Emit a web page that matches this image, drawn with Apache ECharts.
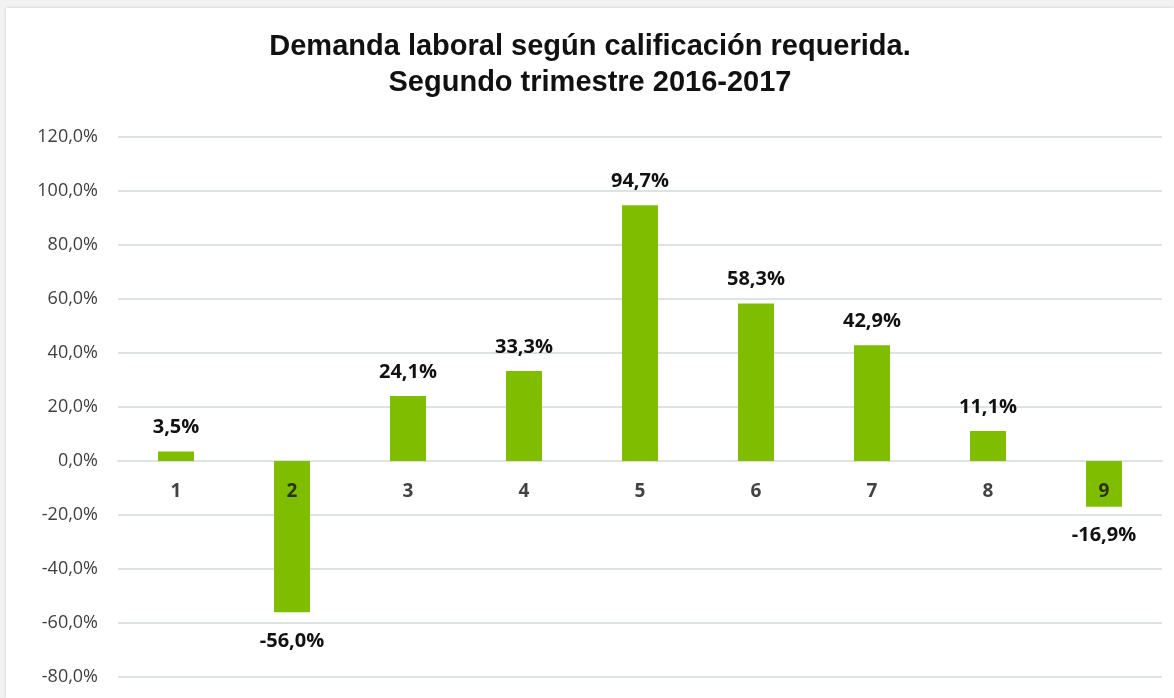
<!DOCTYPE html>
<html>
<head>
<meta charset="utf-8">
<script src="https://cdn.jsdelivr.net/npm/echarts@6/dist/echarts.min.js"></script>
<style>
  html, body { margin: 0; padding: 0; background: #f2f2f2; }
  #main { position: absolute; left: 6px; top: 8px; width: 1168px; height: 690px; background: #fff; box-shadow: 0 0 3px rgba(0,0,0,0.15); }
</style>
</head>
<body>
<div id="main"></div>
<script>
// datos
const categorias = ['1', '2', '3', '4', '5', '6', '7', '8', '9'];
const variacion = [3.5, -56.0, 24.1, 33.3, 94.7, 58.3, 42.9, 11.1, -16.9];
const base = [0, 0, 0, 0, 0, 0, 0, 0, 0]; // etiquetas de categoría sobre la línea 0

const fmt = v => v.toFixed(1).replace('.', ',') + '%';

const chart = echarts.init(document.getElementById('main'));
chart.setOption({
  animation: false,
  title: {
    text: 'Demanda laboral según calificación requerida.\nSegundo trimestre 2016-2017',
    left: 'center',
    top: 16,
    textStyle: {
      fontFamily: 'Liberation Sans',
      fontWeight: 'bold',
      fontSize: 29,
      lineHeight: 36,
      color: '#111'
    }
  },
  grid: { left: 112, right: 12, top: 129, bottom: 21, outerBoundsMode: 'none' },
  xAxis: {
    type: 'category',
    data: categorias,
    axisLine: { show: true, onZero: true, lineStyle: { color: '#dde3e1', width: 2 } },
    axisTick: { show: false },
    axisLabel: { show: false }
  },
  yAxis: {
    type: 'value',
    min: -80,
    max: 120,
    interval: 20,
    axisLabel: {
      formatter: fmt,
      fontSize: 18,
      color: '#404040',
      margin: 20,
      fontFamily: 'Open Sans'
    },
    splitLine: { lineStyle: { color: '#dde3e1', width: 2 } }
  },
  series: [{
    type: 'bar',
    barWidth: 36,
    itemStyle: { color: '#7fbd00' },
    data: variacion.map(v => ({
      value: v,
      label: { position: v < 0 ? 'bottom' : 'top', distance: v < 0 ? 19 : 14 }
    })),
    label: {
      show: true,
      formatter: p => fmt(p.value),
      fontSize: 20,
      fontWeight: 'bold',
      color: '#111',
      fontFamily: 'Open Sans'
    }
  }, {
    type: 'scatter',
    data: base,
    symbolSize: 0,
    z: 5,
    silent: true,
    label: {
      show: true,
      position: 'bottom',
      distance: 21,
      formatter: p => p.name,
      fontSize: 19,
      fontWeight: 'bold',
      color: '#111',
      fontFamily: 'Open Sans'
    }
  }]
});
</script>
</body>
</html>
